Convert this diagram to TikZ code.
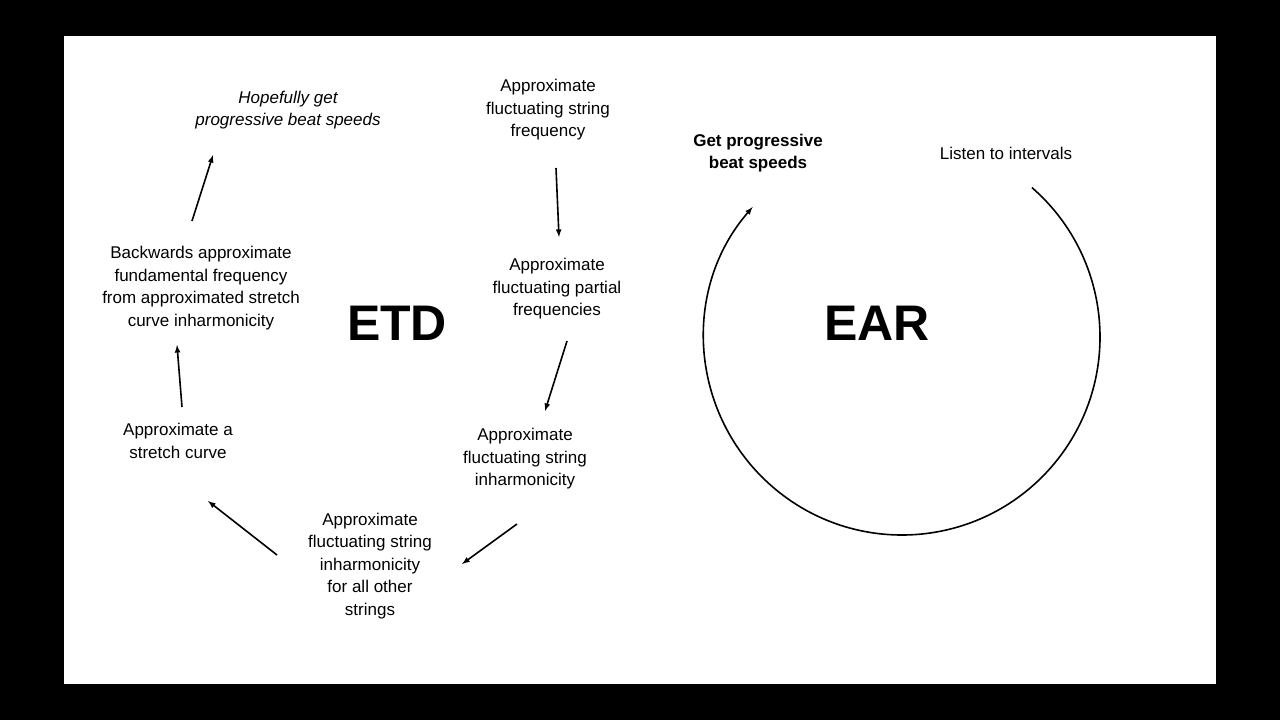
\documentclass[tikz,border=0pt]{standalone}
\usepackage{fontspec}
\setmainfont{Liberation Sans}
\begin{document}
\begin{tikzpicture}[x=1pt,y=-1pt,
  txt/.style={align=center,font=\fontsize{17}{22.5}\selectfont,inner sep=0pt},
  big/.style={font=\fontsize{50}{55}\selectfont\bfseries,inner sep=0pt},
  arr/.style={-latex,line width=1.6pt}]
\fill[black] (0,0) rectangle (1280,720);
\fill[white] (64,36) rectangle (1216,684);
\useasboundingbox (0,0) rectangle (1280,720);
\node[txt,font=\fontsize{17}{22.5}\selectfont\itshape] (hope) at (288,110) {Hopefully get\\progressive beat speeds};
\node[txt] (freq) at (548,110) {Approximate\\fluctuating string\\frequency};
\node[txt] (part) at (557,289) {Approximate\\fluctuating partial\\frequencies};
\node[txt] (inh) at (525,459) {Approximate\\fluctuating string\\inharmonicity};
\node[txt] (all) at (370,566) {Approximate\\fluctuating string\\inharmonicity\\for all other\\strings};
\node[txt] (str) at (178,441) {Approximate a\\stretch curve};
\node[txt] (back) at (201,288) {Backwards approximate\\fundamental frequency\\from approximated stretch\\curve inharmonicity};
\node[big] (etd) at (397,323) {ETD};
\node[big] (ear) at (877,323) {EAR};
\node[txt,font=\fontsize{17}{22.5}\selectfont\bfseries] (get) at (758,153) {Get progressive\\beat speeds};
\node[txt] (listen) at (1006,153) {Listen to intervals};
\coordinate (a1) at (556,168); \coordinate (b1) at (559,237);
\coordinate (a2) at (567,341); \coordinate (b2) at (545,411);
\coordinate (a3) at (517,524); \coordinate (b3) at (462,564);
\coordinate (a4) at (277,555); \coordinate (b4) at (208,501);
\coordinate (a5) at (182,407); \coordinate (b5) at (177,345);
\coordinate (a6) at (192,221); \coordinate (b6) at (213,155);
\foreach \i in {1,...,6} \draw[arr] (a\i) -- (b\i);
\coordinate (cc) at (902,337);
\draw[arr] (cc) ++(-49:198) arc[start angle=-49,end angle=221,radius=198];
\end{tikzpicture}
\end{document}
